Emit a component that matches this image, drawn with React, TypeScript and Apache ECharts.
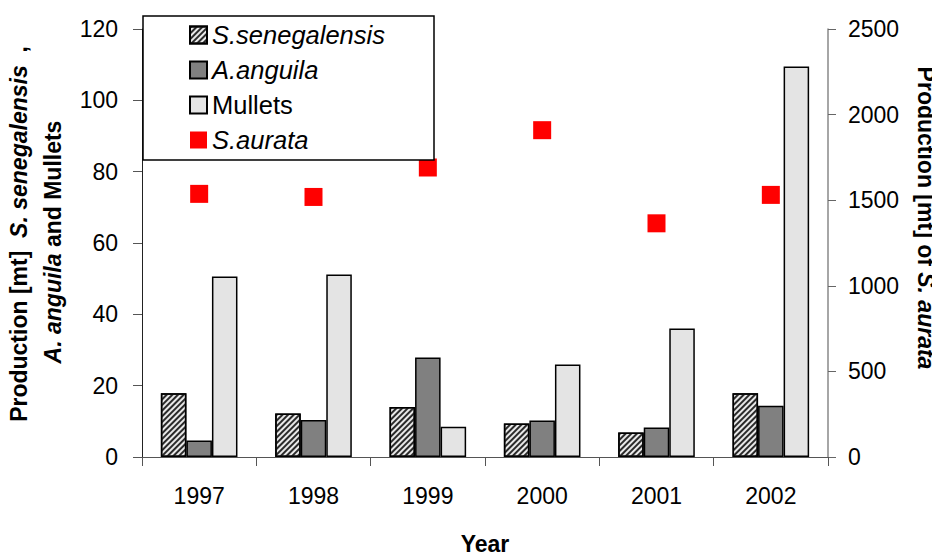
import React, { useEffect, useRef } from "react";
import * as echarts from "echarts";

const years = ["1997", "1998", "1999", "2000", "2001", "2002"];
const senegalensis = [17.9, 12.2, 14.0, 9.4, 6.9, 17.9];
const anguila = [4.6, 10.4, 27.9, 10.2, 8.3, 14.4];
const mullets = [50.6, 51.2, 8.5, 25.9, 36.0, 109.5];
const aurata = [1537, 1519, 1691, 1909, 1365, 1531];

const FONT = "'Liberation Sans', Arial, sans-serif";
const TF = 23;

export default function App() {
  const ref = useRef<HTMLDivElement>(null);
  useEffect(() => {
    if (!ref.current) return;
    const chart = echarts.init(ref.current, undefined, { renderer: "svg" });
    const barBorder = { borderColor: "#000", borderWidth: 1.5 };
    const titleRich = {
      b: { fontFamily: FONT, fontSize: TF, fontWeight: "bold", fill: "#000" },
      bi: { fontFamily: FONT, fontSize: TF, fontWeight: "bold", fontStyle: "italic", fill: "#000" },
    };
    chart.setOption({
      animation: false,
      backgroundColor: "#fff",
      textStyle: { fontFamily: FONT },
      grid: { left: 142, right: 112, top: 29, bottom: 95, containLabel: false },
      legend: {
        orient: "vertical",
        left: 189,
        top: 22,
        padding: 0,
        itemWidth: 17,
        itemHeight: 17,
        itemGap: 9,
        z: 11,
        textStyle: {
          fontFamily: FONT,
          fontSize: 25,
          color: "#000",
          lineHeight: 25,
          rich: {
            i: { fontStyle: "italic", fontSize: 25.5, fontFamily: FONT, color: "#000" },
            n: { fontSize: 25.5, fontFamily: FONT, color: "#000" },
          },
        },
        formatter: (name: string) => (name === "Mullets" ? `{n|${name}}` : `{i|${name}}`),
        data: [
          { name: "S.senegalensis", icon: "rect" },
          { name: "A.anguila", icon: "rect" },
          { name: "Mullets", icon: "rect" },
          { name: "S.aurata", icon: "rect", itemStyle: { borderWidth: 0 } },
        ],
      },
      graphic: [
        {
          type: "rect",
          z: 10,
          shape: { x: 143, y: 16, width: 291, height: 144 },
          style: { fill: "#fff", stroke: "#000", lineWidth: 1.5 },
        },
        {
          type: "text",
          x: 19,
          y: 234,
          rotation: Math.PI / 2,
          style: {
            text: "{b|Production [mt]  }{bi|S. senegalensis}{b|  ,}",
            align: "center",
            verticalAlign: "middle",
            rich: titleRich,
          },
        },
        {
          type: "text",
          x: 53,
          y: 242,
          rotation: Math.PI / 2,
          style: {
            text: "{bi|A. anguila}{b| and Mullets}",
            align: "center",
            verticalAlign: "middle",
            rich: titleRich,
          },
        },
        {
          type: "text",
          x: 926,
          y: 218,
          rotation: -Math.PI / 2,
          style: {
            text: "{b|Production [mt] of }{bi|S. aurata}",
            align: "center",
            verticalAlign: "middle",
            rich: titleRich,
          },
        },
      ],
      xAxis: {
        type: "category",
        data: years,
        boundaryGap: true,
        name: "Year",
        nameLocation: "middle",
        nameGap: 75,
        nameTextStyle: { fontFamily: FONT, fontSize: TF, fontWeight: "bold", color: "#000" },
        axisLine: { lineStyle: { color: "#555", width: 1 } },
        axisTick: { show: true, alignWithLabel: false, length: 9, lineStyle: { color: "#555" } },
        axisLabel: { fontFamily: FONT, fontSize: 23, color: "#000", margin: 27 },
      },
      yAxis: [
        {
          type: "value",
          min: 0,
          max: 120,
          interval: 20,
          splitLine: { show: false },
          axisLine: { show: true, lineStyle: { color: "#222", width: 1 } },
          axisTick: { show: true, length: 9, lineStyle: { color: "#555" } },
          axisLabel: { fontFamily: FONT, fontSize: 23, color: "#000", margin: 24 },
        },
        {
          type: "value",
          min: 0,
          max: 2500,
          interval: 500,
          position: "right",
          splitLine: { show: false },
          axisLine: { show: true, lineStyle: { color: "#888", width: 1.5 } },
          axisTick: { show: true, length: 8, lineStyle: { color: "#666" } },
          axisLabel: {
            fontFamily: FONT,
            fontSize: 23,
            color: "#000",
            margin: 20,
            formatter: (v: number) => String(v),
          },
        },
      ],
      series: [
        {
          name: "S.senegalensis",
          type: "bar",
          data: senegalensis,
          barGap: "0%",
          barCategoryGap: "33%",
          itemStyle: {
            color: "#e8e8e8",
            ...barBorder,
            decal: {
              symbol: "rect",
              symbolSize: 1,
              color: "#2a2a2a",
              dashArrayX: [1, 0],
              dashArrayY: [1.5, 1.2],
              rotation: -Math.PI / 4,
            },
          },
        },
        {
          name: "A.anguila",
          type: "bar",
          data: anguila,
          barGap: "0%",
          barCategoryGap: "33%",
          itemStyle: { color: "#808080", ...barBorder },
        },
        {
          name: "Mullets",
          type: "bar",
          data: mullets,
          barGap: "0%",
          barCategoryGap: "33%",
          itemStyle: { color: "#e4e4e4", ...barBorder },
        },
        {
          name: "S.aurata",
          type: "scatter",
          yAxisIndex: 1,
          data: aurata,
          symbol: "rect",
          symbolSize: 18,
          z: 5,
          itemStyle: { color: "#ff0000", opacity: 1 },
        },
      ],
    });
    return () => chart.dispose();
  }, []);
  return <div ref={ref} style={{ width: 940, height: 560, margin: -8 }} />;
}
